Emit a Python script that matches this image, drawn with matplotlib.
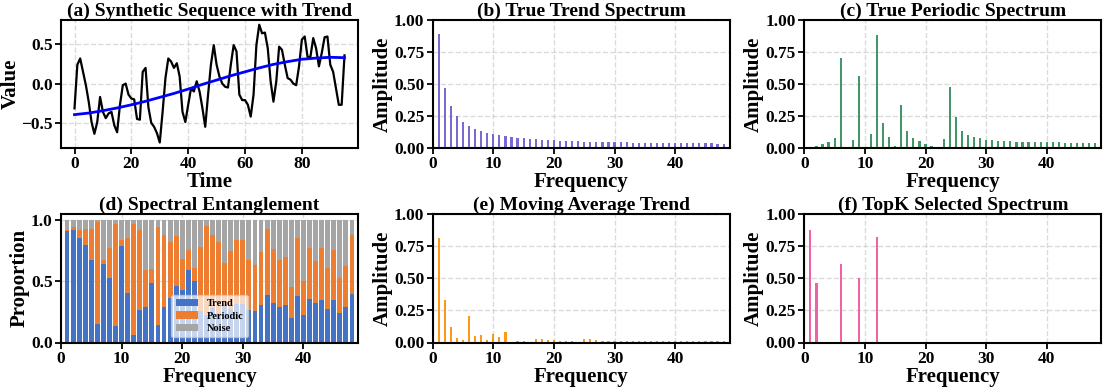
import matplotlib.pyplot as plt
import numpy as np

plt.rcParams['font.family'] = ['Liberation Serif', 'DejaVu Serif']
plt.rcParams['font.weight'] = 'bold'
plt.rcParams['axes.labelweight'] = 'bold'
plt.rcParams['axes.titleweight'] = 'bold'

# (a) synthetic sequence and its trend
time = np.arange(96)
series = [-0.315, 0.24, 0.32, 0.15, -0.02, -0.23, -0.49, -0.64, -0.49, -0.17,
          -0.36, -0.44, -0.38, -0.36, -0.53, -0.62, -0.27, -0.02, 0.0, -0.14,
          -0.19, -0.20, -0.45, -0.46, 0.15, 0.20, -0.30, -0.50, -0.55, -0.63,
          -0.75, -0.36, 0.07, 0.32, 0.28, 0.20, 0.26, 0.09, -0.36, -0.49,
          -0.27, -0.06, -0.10, 0.03, -0.10, -0.31, -0.55, -0.14, 0.24, 0.49,
          0.24, 0.09, 0.00, -0.04, -0.05, 0.24, 0.49, 0.41, -0.14, -0.21,
          -0.21, -0.27, -0.42, -0.14, 0.49, 0.75, 0.64, 0.65, 0.45, 0.03,
          -0.23, 0.03, 0.47, 0.43, 0.24, 0.07, 0.05, 0.00, -0.02, 0.22,
          0.56, 0.60, 0.34, 0.34, 0.58, 0.45, 0.22, 0.39, 0.59, 0.60,
          0.24, 0.15, -0.06, -0.27, -0.27, 0.36]
trend = [-0.395, -0.391, -0.387, -0.383, -0.379, -0.375, -0.369, -0.363, -0.357, -0.351,
         -0.345, -0.338, -0.331, -0.324, -0.317, -0.310, -0.302, -0.294, -0.286, -0.278,
         -0.270, -0.261, -0.252, -0.243, -0.234, -0.225, -0.215, -0.205, -0.195, -0.185,
         -0.175, -0.165, -0.155, -0.145, -0.135, -0.125, -0.114, -0.103, -0.092, -0.081,
         -0.070, -0.058, -0.046, -0.034, -0.022, -0.010, 0.001, 0.012, 0.023, 0.034,
         0.045, 0.056, 0.067, 0.078, 0.089, 0.100, 0.110, 0.120, 0.130, 0.140,
         0.150, 0.160, 0.170, 0.180, 0.190, 0.200, 0.209, 0.218, 0.227, 0.236,
         0.245, 0.252, 0.259, 0.266, 0.273, 0.280, 0.286, 0.292, 0.298, 0.304,
         0.310, 0.313, 0.316, 0.319, 0.322, 0.325, 0.327, 0.329, 0.331, 0.333,
         0.335, 0.334, 0.333, 0.332, 0.331, 0.330]

# spectra, frequencies 1..48
freq = np.arange(1, 49)
trend_spec = [0.891, 0.470, 0.328, 0.251, 0.204, 0.171, 0.150, 0.132, 0.119, 0.109,
              0.098, 0.090, 0.085, 0.080, 0.075, 0.070, 0.067, 0.064, 0.062, 0.060,
              0.058, 0.056, 0.054, 0.052, 0.050, 0.049, 0.048, 0.046, 0.045, 0.044,
              0.043, 0.043, 0.042, 0.041, 0.041, 0.040, 0.040, 0.039, 0.039, 0.038,
              0.038, 0.037, 0.037, 0.036, 0.036, 0.036, 0.035, 0.035]
periodic_spec = [0.003, 0.018, 0.028, 0.044, 0.080, 0.700, 0.005, 0.065, 0.563, 0.003,
                 0.108, 0.879, 0.196, 0.085, 0.018, 0.338, 0.134, 0.080, 0.052, 0.034,
                 0.013, 0.008, 0.072, 0.473, 0.240, 0.134, 0.100, 0.085, 0.075, 0.065,
                 0.062, 0.057, 0.054, 0.052, 0.049, 0.048, 0.047, 0.046, 0.045, 0.044,
                 0.043, 0.043, 0.042, 0.042, 0.041, 0.041, 0.040, 0.040]
ma_spec = [0.811, 0.326, 0.122, 0.036, 0.018, 0.202, 0.047, 0.060, 0.021, 0.067,
           0.044, 0.083, 0.002, 0.008, 0.008, 0.003, 0.028, 0.026, 0.023, 0.016,
           0.013, 0.013, 0.011, 0.005, 0.031, 0.026, 0.018, 0.013, 0.013, 0.013,
           0.013, 0.013, 0.013, 0.013, 0.013, 0.013, 0.013, 0.013, 0.013, 0.013,
           0.013, 0.013, 0.013, 0.013, 0.013, 0.013, 0.013, 0.013]
topk_freq = [1, 2, 6, 9, 12]
topk_amp = [0.873, 0.461, 0.606, 0.503, 0.821]

# (d) proportions per frequency
trend_prop = [0.908, 0.913, 0.851, 0.791, 0.675, 0.152, 0.637, 0.526, 0.133, 0.783,
              0.401, 0.057, 0.268, 0.285, 0.485, 0.141, 0.285, 0.366, 0.463, 0.431,
              0.591, 0.501, 0.26, 0.22, 0.28, 0.24, 0.30, 0.27, 0.31, 0.314,
              0.263, 0.255, 0.304, 0.390, 0.322, 0.290, 0.304, 0.200, 0.382, 0.225,
              0.352, 0.322, 0.350, 0.276, 0.350, 0.244, 0.290, 0.396]
trend_periodic_top = [0.916, 0.940, 0.916, 0.921, 0.921, 0.981, 0.669, 0.770, 0.962, 0.835,
                      0.848, 0.965, 0.916, 0.593, 0.602, 0.938, 0.878, 0.816, 0.870, 0.680,
                      0.753, 0.610, 0.775, 0.951, 0.873, 0.821, 0.645, 0.743, 0.835, 0.835,
                      0.675, 0.629, 0.737, 0.921, 0.759, 0.672, 0.699, 0.453, 0.848, 0.499,
                      0.772, 0.664, 0.767, 0.610, 0.756, 0.526, 0.623, 0.873]
periodic_prop = np.array(trend_periodic_top) - np.array(trend_prop)
noise_prop = 1 - np.array(trend_periodic_top)

fig = plt.figure(figsize=(11.03, 3.88), dpi=100)
W, H = 1103, 388
lefts = [61, 432.7, 804.3]
ax_a = fig.add_axes([lefts[0] / W, 1 - 148 / H, 297 / W, 128 / H])
ax_b = fig.add_axes([lefts[1] / W, 1 - 148 / H, 297 / W, 128 / H])
ax_c = fig.add_axes([lefts[2] / W, 1 - 148 / H, 297 / W, 128 / H])
ax_d = fig.add_axes([lefts[0] / W, 1 - 342.5 / H, 297 / W, 129 / H])
ax_e = fig.add_axes([lefts[1] / W, 1 - 342.5 / H, 297 / W, 129 / H])
ax_f = fig.add_axes([lefts[2] / W, 1 - 342.5 / H, 297 / W, 129 / H])

title_size = 14
label_size = 15
tick_size = 12.5

# (a)
ax_a.plot(time, series, color='black', lw=1.6)
ax_a.plot(time, trend, color='#0000ff', lw=2)
ax_a.set_yticks([-0.5, 0.0, 0.5])
ax_a.set_xticks([0, 20, 40, 60, 80])
ax_a.set_ylim(-0.82, 0.81)
ax_a.set_title('(a) Synthetic Sequence with Trend', fontsize=title_size, pad=2)
ax_a.set_xlabel('Time', fontsize=label_size, labelpad=0)
ax_a.set_ylabel('Value', fontsize=label_size, labelpad=0)

# spectra
spec_axes = [
    (ax_b, freq, trend_spec, '#6a5acd', '(b) True Trend Spectrum'),
    (ax_c, freq, periodic_spec, '#2e8b57', '(c) True Periodic Spectrum'),
    (ax_e, freq, ma_spec, '#ff8c00', '(e) Moving Average Trend'),
    (ax_f, topk_freq, topk_amp, '#f0509b', '(f) TopK Selected Spectrum'),
]
for ax, x, y, c, t in spec_axes:
    ax.bar(x, y, width=0.36, color=c, alpha=0.9, linewidth=0)
    ax.set_xlim(0, 49)
    ax.set_ylim(0, 1.0)
    ax.set_yticks([0, 0.25, 0.5, 0.75, 1.0])
    ax.set_yticklabels(['0.00', '0.25', '0.50', '0.75', '1.00'])
    ax.set_title(t, fontsize=title_size, pad=2)
    ax.set_ylabel('Amplitude', fontsize=label_size, labelpad=1)

# (d)
ax_d.bar(freq, trend_prop, width=0.8, color='#4472c4', label='Trend')
ax_d.bar(freq, periodic_prop, width=0.8, bottom=trend_prop, color='#ed7d31', label='Periodic')
ax_d.bar(freq, noise_prop, width=0.8, bottom=trend_periodic_top, color='#a5a5a5', label='Noise')
ax_d.set_xlim(0, 49)
ax_d.set_ylim(0, 1.05)
ax_d.set_yticks([0.0, 0.5, 1.0])
ax_d.set_title('(d) Spectral Entanglement', fontsize=title_size, pad=2)
ax_d.set_ylabel('Proportion', fontsize=label_size, labelpad=1)
ax_d.legend(loc='lower center', fontsize=7.5, framealpha=0.7, handlelength=2.2,
            borderpad=0.4, labelspacing=0.3)

for ax in [ax_b, ax_c, ax_d, ax_e, ax_f]:
    ax.set_xticks([0, 10, 20, 30, 40])
    ax.set_xlabel('Frequency', fontsize=label_size, labelpad=0)

for ax in [ax_a, ax_b, ax_c, ax_d, ax_e, ax_f]:
    ax.grid(True, linestyle='--', color='#cccccc', lw=1, alpha=0.7)
    ax.set_axisbelow(True)
    ax.tick_params(labelsize=tick_size, width=1.3, length=4, pad=2)
    for s in ax.spines.values():
        s.set_linewidth(1.5)

plt.savefig('out.png', dpi=100)
plt.close()
